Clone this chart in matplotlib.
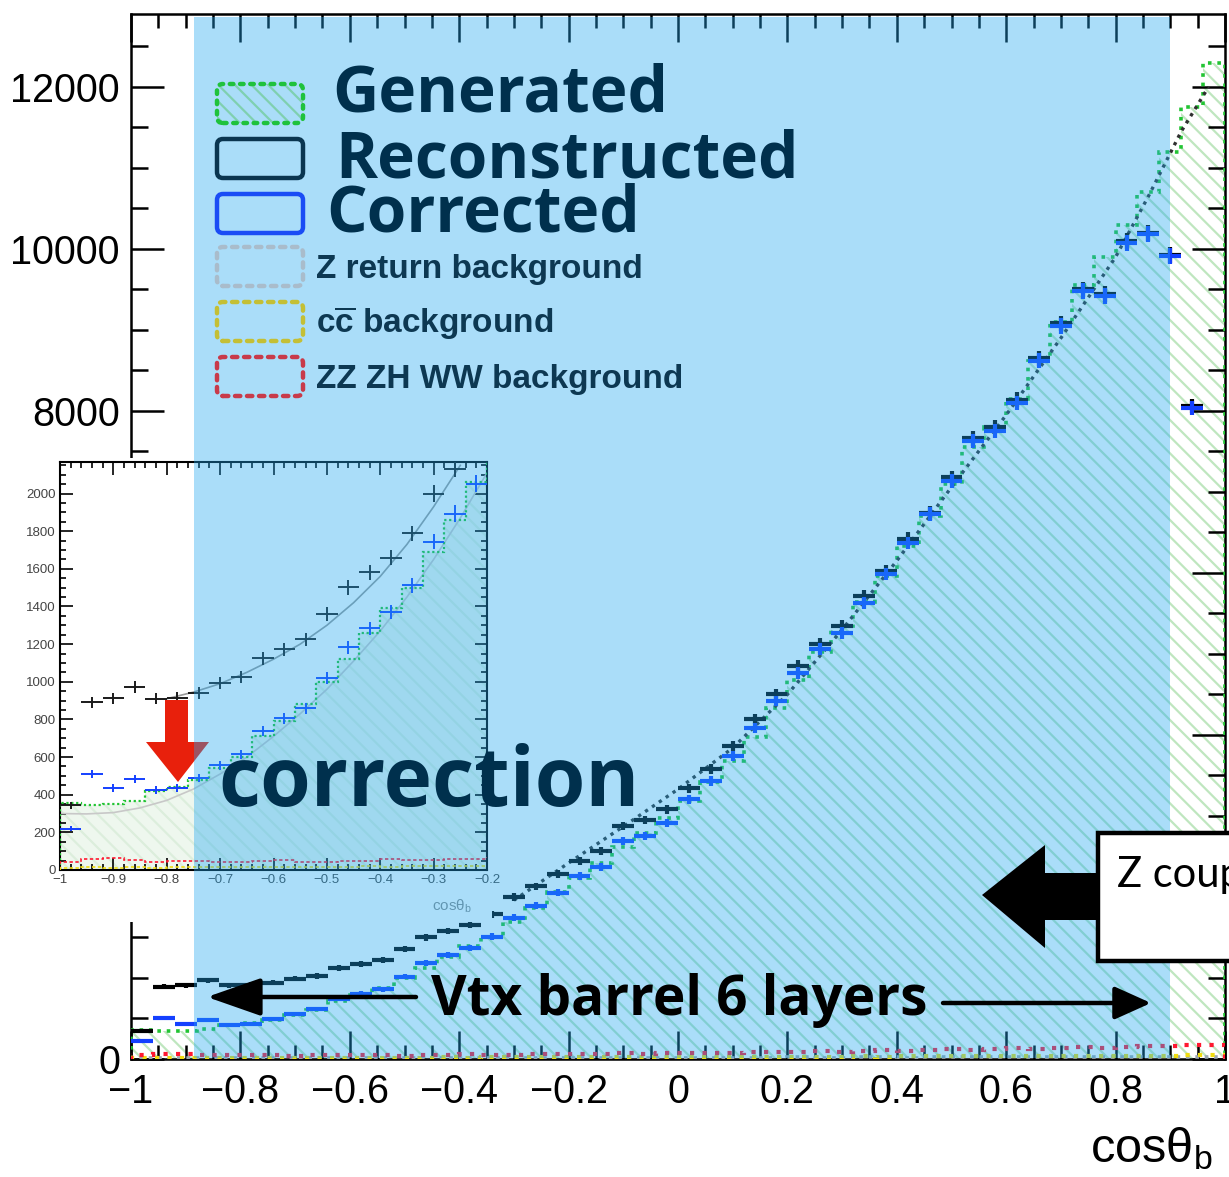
import numpy as np
import matplotlib
matplotlib.use("Agg")
import matplotlib.pyplot as plt
from matplotlib.patches import Rectangle, Polygon, FancyBboxPatch, FancyArrowPatch
from matplotlib.transforms import IdentityTransform
from matplotlib.ticker import MultipleLocator, FixedLocator, FixedFormatter

plt.rcParams["font.family"] = ["Liberation Sans", "DejaVu Sans"]
plt.rcParams["mathtext.fontset"] = "custom"
plt.rcParams["mathtext.rm"] = "Liberation Sans"
plt.rcParams["mathtext.it"] = "Liberation Sans:italic"
plt.rcParams["mathtext.bf"] = "Liberation Sans:bold"
plt.rcParams["hatch.linewidth"] = 1.6

W, H = 1229, 1177

# ---- b-quark polar angle distribution, 50 bins of width 0.04 ----
bin_edges = np.linspace(-1.0, 1.0, 51)
bin_centers = 0.5 * (bin_edges[:-1] + bin_edges[1:])

generated = [355, 345, 350, 365, 420, 440, 480, 540, 600, 710,
             790, 880, 1000, 1120, 1260, 1390, 1500, 1690, 1860, 2060,
             2230, 2420, 2620, 2790, 2980, 3190, 3420, 3680, 3980, 4330,
             4680, 5020, 5350, 5640, 5960, 6330, 6700, 7100, 7560, 7800,
             8150, 8620, 9100, 9560, 9900, 10300, 10700, 11200, 11750, 12300]

reconstructed = [345, 891, 912, 971, 910, 915, 939, 992, 1024, 1125,
                 1172, 1225, 1358, 1501, 1581, 1660, 1788, 2000, 2132, 2280,
                 2444, 2568, 2877, 2951, 3086, 3340, 3580, 3864, 4197, 4506,
                 4852, 5123, 5346, 5716, 6025, 6420, 6741, 7180, 7660, 7800,
                 8140, 8650, 9080, 9500, 9440, 10100, 10200, 9930, 8060, np.nan]

corrected = [220, 509, 435, 483, 424, 435, 488, 557, 615, 737,
             806, 859, 1018, 1183, 1284, 1369, 1512, 1745, 1894, 2053,
             2259, 2370, 2691, 2753, 2914, 3205, 3432, 3741, 4086, 4420,
             4765, 5062, 5259, 5630, 5988, 6370, 6728, 7136, 7630, 7753,
             8099, 8617, 9049, 9481, 9420, 10074, 10185, 9914, 8037, np.nan]

zreturn_bkg = [10, 12, 9, 11, 10, 12, 11, 13, 12, 11,
               13, 12, 14, 13, 12, 14, 15, 13, 14, 15,
               16, 14, 15, 17, 16, 15, 17, 18, 16, 17,
               19, 18, 17, 19, 20, 18, 19, 21, 20, 22,
               21, 23, 22, 24, 23, 25, 24, 26, 28, 30]

cc_bkg = [12, 14, 12, 15, 13, 14, 16, 14, 15, 17,
          15, 16, 18, 17, 19, 18, 20, 19, 21, 22,
          21, 23, 22, 24, 25, 24, 26, 27, 26, 28,
          29, 28, 30, 31, 30, 32, 33, 32, 34, 35,
          34, 36, 37, 36, 38, 40, 39, 42, 44, 46]

zzzhww_bkg = [45, 60, 62, 55, 45, 46, 50, 42, 45, 48,
              52, 45, 43, 46, 50, 56, 52, 55, 58, 56,
              62, 60, 68, 66, 72, 70, 78, 76, 82, 88,
              86, 95, 92, 100, 106, 104, 112, 118, 115, 125,
              130, 128, 138, 142, 140, 150, 158, 155, 168, 175]

# smooth fit curves
main_fit_x = [-0.30, -0.20, -0.10, 0.0, 0.10, 0.20, 0.30, 0.40, 0.50,
              0.60, 0.70, 0.80, 0.86, 0.92, 0.97]
main_fit_y = [1960, 2420, 2870, 3330, 3840, 4500, 5300, 6150, 7060,
              7950, 8900, 9900, 10650, 11450, 12000]
inset_reco_fit_x = [-0.80, -0.75, -0.70, -0.65, -0.60, -0.55, -0.50,
                    -0.45, -0.40, -0.35, -0.30, -0.25]
inset_reco_fit_y = [910, 945, 990, 1050, 1120, 1200, 1300, 1420, 1560,
                    1730, 1930, 2150]
inset_gen_fit_x = [-1.0, -0.95, -0.90, -0.85, -0.80, -0.75, -0.70, -0.65,
                   -0.60, -0.55, -0.50, -0.45, -0.40, -0.35, -0.30, -0.25, -0.20]
inset_gen_fit_y = [300, 298, 305, 330, 370, 430, 510, 600, 710, 830, 960,
                   1110, 1270, 1450, 1650, 1870, 2110]

main_xticks = [-1, -0.8, -0.6, -0.4, -0.2, 0, 0.2, 0.4, 0.6, 0.8, 1]
main_xticklabels = ["\u22121", "\u22120.8", "\u22120.6", "\u22120.4", "\u22120.2",
                    "0", "0.2", "0.4", "0.6", "0.8", "1"]
main_yticks = [0, 2000, 4000, 6000, 8000, 10000, 12000]
# labels 2000-6000 sit behind the inset panel
main_yticklabels = ["0", "", "", "", "8000", "10000", "12000"]
inset_xticks = [-1, -0.9, -0.8, -0.7, -0.6, -0.5, -0.4, -0.3, -0.2]
inset_xticklabels = ["\u22121", "\u22120.9", "\u22120.8", "\u22120.7", "\u22120.6",
                     "\u22120.5", "\u22120.4", "\u22120.3", "\u22120.2"]
inset_yticks = [0, 200, 400, 600, 800, 1000, 1200, 1400, 1600, 1800, 2000]

legend_big = ["Generated", "Reconstructed", "Corrected"]
legend_small = ["Z return background", r"$\mathbf{c\overline{c}}$ background",
                "ZZ ZH WW background"]

C_GEN = "#22c433"
C_RECO = "#000000"
C_CORR = "#1440ff"
C_ZRET = "#9aa6b0"
C_CC = "#f0dc10"
C_ZZ = "#ff1830"
NAVY = "#00304d"

gen = np.array(generated, float)
reco = np.array(reconstructed, float)
corr = np.array(corrected, float)


def fig_frac(x, y):
    return x / W, 1 - y / H


def disp(x, y):
    return x, H - y


fig = plt.figure(figsize=(W / 100, H / 100), dpi=100)

# ---------------- main axes ----------------
ax = fig.add_axes([131 / W, 1 - 1059 / H, (1225 - 131) / W, (1059 - 14) / H])
ax.set_zorder(0)
ax.set_xlim(-1, 1)
ax.set_ylim(0, 12900)

ax.stairs(gen, bin_edges, fill=True, facecolor="none", edgecolor="#bfe6bf",
          linewidth=0, hatch="\\\\", zorder=1)
ax.stairs(gen, bin_edges, color=C_GEN, linewidth=2.6, linestyle=(0, (1, 1.6)), zorder=3)
ax.stairs(zreturn_bkg, bin_edges, color=C_ZRET, linewidth=2.6, linestyle=(0, (1, 1.6)), zorder=3)
ax.stairs(cc_bkg, bin_edges, color=C_CC, linewidth=3.0, linestyle=(0, (1, 2.0)), zorder=3)
ax.stairs(zzzhww_bkg, bin_edges, color=C_ZZ, linewidth=3.0, linestyle=(0, (1, 2.0)), zorder=3)
ax.plot(main_fit_x, main_fit_y, color="#303030", linewidth=2.4,
        linestyle=(0, (1, 1.5)), zorder=4)
ax.errorbar(bin_centers, reco, xerr=0.02, yerr=np.sqrt(reco), fmt="none",
            ecolor=C_RECO, elinewidth=3.0, zorder=5)
ax.errorbar(bin_centers, corr, xerr=0.02, yerr=np.sqrt(corr), fmt="none",
            ecolor=C_CORR, elinewidth=3.0, zorder=6)

ax.xaxis.set_major_locator(FixedLocator(main_xticks))
ax.xaxis.set_major_formatter(FixedFormatter(main_xticklabels))
ax.xaxis.set_minor_locator(MultipleLocator(0.05))
ax.yaxis.set_major_locator(FixedLocator(main_yticks))
ax.yaxis.set_major_formatter(FixedFormatter(main_yticklabels))
ax.yaxis.set_minor_locator(MultipleLocator(500))
ax.tick_params(which="both", direction="in", top=True, right=True, width=1.8,
               labelsize=28.5, pad=8)
ax.tick_params(axis="x", which="major", pad=10)
ax.tick_params(axis="y", which="major", length=24)
ax.tick_params(axis="y", which="minor", length=12)
ax.tick_params(axis="x", which="major", length=20)
ax.tick_params(axis="x", which="minor", length=10)
for s in ax.spines.values():
    s.set_linewidth(1.8)

fig.text(*fig_frac(1090, 1162), "cos\u03b8$_{\\mathregular{b}}$", fontsize=35,
         ha="left", va="baseline")

# white backing for the inset panel
fig.add_artist(Rectangle(disp(0, 922), 492, 922 - 458, transform=IdentityTransform(),
                         facecolor="white", edgecolor="none", zorder=1))

# ---------------- inset axes ----------------
ins = fig.add_axes([60 / W, 1 - 870 / H, (487 - 60) / W, (870 - 462.5) / H])
ins.set_zorder(2)
ins.set_xlim(-1, -0.2)
ins.set_ylim(0, 2165)
ins.stairs(gen, bin_edges, fill=True, facecolor="#eef7ee", edgecolor="#dceedc",
           linewidth=0, hatch="\\\\", zorder=1)
ins.stairs(gen, bin_edges, color=C_GEN, linewidth=1.6, linestyle=(0, (1, 1.2)), zorder=3)
ins.stairs(zzzhww_bkg, bin_edges, color=C_ZZ, linewidth=1.2, linestyle=(0, (2, 1.5)), zorder=3)
ins.stairs(cc_bkg, bin_edges, color=C_CC, linewidth=1.2, linestyle=(0, (2, 1.5)), zorder=3)
ins.plot(inset_reco_fit_x, inset_reco_fit_y, color="#9a9a9a", linewidth=1.2, zorder=2)
ins.plot(inset_gen_fit_x, inset_gen_fit_y, color="#c8c8c8", linewidth=1.2, zorder=2)
ins.errorbar(bin_centers, reco, xerr=0.02, yerr=np.sqrt(reco), fmt="none",
             ecolor="#1a1a1a", elinewidth=1.4, zorder=5)
ins.errorbar(bin_centers, corr, xerr=0.02, yerr=np.sqrt(corr), fmt="none",
             ecolor=C_CORR, elinewidth=1.4, zorder=6)
ins.xaxis.set_major_locator(FixedLocator(inset_xticks))
ins.xaxis.set_major_formatter(FixedFormatter(inset_xticklabels))
ins.xaxis.set_minor_locator(MultipleLocator(0.02))
ins.yaxis.set_major_locator(FixedLocator(inset_yticks))
ins.yaxis.set_minor_locator(MultipleLocator(50))
ins.tick_params(which="both", direction="in", top=True, right=True, width=1.2,
                labelsize=9.5, labelcolor="#444444", pad=3)
ins.tick_params(which="major", length=9)
ins.tick_params(which="minor", length=4.5)
for s in ins.spines.values():
    s.set_linewidth(1.5)
fig.text(*fig_frac(432, 911), "cos\u03b8$_{\\mathregular{b}}$", fontsize=11,
         color="#8a8a8a", ha="left", va="baseline", zorder=3)

# red arrow marking the correction
fig.add_artist(Polygon([disp(165, 700), disp(188, 700), disp(188, 742), disp(209, 742),
                        disp(178, 782), disp(146, 742), disp(165, 742)],
                       closed=True, transform=IdentityTransform(), facecolor="#e8200c",
                       edgecolor="none", zorder=3))

# translucent band: vertex-detector barrel acceptance
fig.add_artist(Rectangle(disp(193.5, 1058), 1170 - 193.5, 1058 - 17,
                         transform=IdentityTransform(), facecolor=(0.124, 0.66, 0.947),
                         alpha=0.38, edgecolor="none", zorder=4))

# ---------------- legend symbols ----------------
box_x, box_w, box_h = 217, 86, 39
box_tops = [84, 139, 194, 247, 302, 357]
box_edges = ["#1fc23c", "#0a3550", "#1a4cf5", "#a9bccb", "#c4bf35", "#c83a4a"]
box_styles = [(0, (0.8, 1.5)), "solid", "solid", (0, (1.2, 1.5)), (0, (1.2, 1.5)),
              (0, (1.2, 1.5))]
for i, (top, ec, ls) in enumerate(zip(box_tops, box_edges, box_styles)):
    if i == 0:
        fig.add_artist(FancyBboxPatch(disp(box_x, top + box_h), box_w, box_h,
                                      boxstyle="round,pad=0,rounding_size=6",
                                      transform=IdentityTransform(), facecolor="none",
                                      edgecolor="#7fd0b0", linewidth=0, hatch="\\\\",
                                      zorder=5))
    fig.add_artist(FancyBboxPatch(disp(box_x, top + box_h), box_w, box_h,
                                  boxstyle="round,pad=0,rounding_size=6",
                                  transform=IdentityTransform(), facecolor="none",
                                  edgecolor=ec, linewidth=3.2, linestyle=ls,
                                  capstyle="round", zorder=5))

small_baselines = [278, 333, 388]
for txt, yb in zip(legend_small, small_baselines):
    fig.text(*fig_frac(316, yb), txt, fontsize=24, fontweight="bold", color="#0d3852",
             ha="left", va="baseline", zorder=5)

# ---------------- annotations ----------------
big_font = ["Open Sans", "DejaVu Sans"]
big_baselines = [112, 177, 231]
big_left = [332, 335, 326]
for txt, x0, yb in zip(legend_big, big_left, big_baselines):
    fig.text(*fig_frac(x0, yb), txt, fontsize=46, fontweight="bold", color=NAVY,
             family=big_font, ha="left", va="baseline", zorder=5)

fig.text(*fig_frac(218, 806), "correction", fontsize=59, fontweight="bold", color=NAVY,
         family=big_font, ha="left", va="baseline", zorder=5)

fig.text(*fig_frac(431, 1015), "Vtx barrel 6 layers", fontsize=39.5, fontweight="bold",
         color="black", family=big_font, ha="left", va="baseline", zorder=5)
fig.add_artist(FancyArrowPatch(disp(416, 997), disp(207, 997), transform=IdentityTransform(),
                               arrowstyle="-|>,head_length=1.2,head_width=0.42",
                               mutation_scale=28, linewidth=3.2, color="black",
                               shrinkA=0, shrinkB=0, zorder=5))
fig.add_artist(FancyArrowPatch(disp(943, 1003), disp(1151, 1003), transform=IdentityTransform(),
                               arrowstyle="-|>,head_length=0.8,head_width=0.36",
                               mutation_scale=28, linewidth=3.2, color="black",
                               shrinkA=0, shrinkB=0, zorder=5))

# pointer towards the barrel region and the couplings box
fig.add_artist(Polygon([disp(982, 895), disp(1045, 845), disp(1045, 873), disp(1100, 873),
                        disp(1100, 920), disp(1045, 920), disp(1045, 948)],
                       closed=True, transform=IdentityTransform(), facecolor="black",
                       edgecolor="none", zorder=5))
fig.add_artist(Rectangle(disp(1098, 961), 200, 961 - 833, transform=IdentityTransform(),
                         facecolor="white", edgecolor="black", linewidth=3.2, zorder=5))
fig.text(*fig_frac(1117, 887), "Z couplings", fontsize=30, color="black",
         family=["Lato", "DejaVu Sans"], ha="left", va="baseline", zorder=6)

fig.savefig("out.png", dpi=100)
